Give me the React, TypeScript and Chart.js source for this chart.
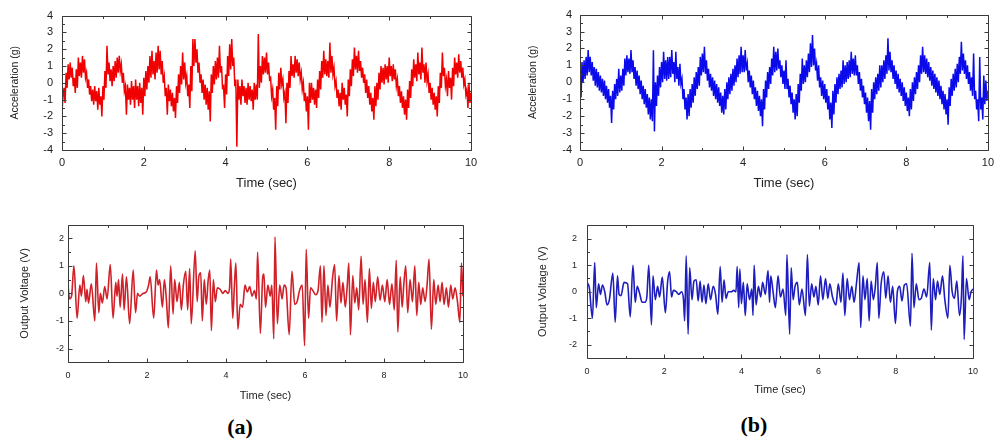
import React, { useEffect, useRef } from "react";
import { Chart, registerables } from "chart.js";

Chart.register(...registerables);

// ---------- axis ticks ----------
const TIME_TICKS = [0, 2, 4, 6, 8, 10];
const TIME_MINOR = [1, 3, 5, 7, 9];
const ACC_TICKS = [-4, -3, -2, -1, 0, 1, 2, 3, 4];
const ACC_MINOR = [-3.5, -2.5, -1.5, -0.5, 0.5, 1.5, 2.5, 3.5];
const VOLT_TICKS = [-2, -1, 0, 1, 2];
const VOLT_MINOR = [-1.5, -0.5, 0.5, 1.5];

// sample spacing (s) of the acceleration records
const ACC_SAMPLE_STEP = 0.025;

// ---------- (a) acceleration, g ----------
const ACC_A = [
  -1.7,-0.8, -0.3,-1.2, 0.6,-0.3, 1.1,0.2, 1.2,0.3, 0.9,-0.2, 0.3,-0.6, 0.8,-0.3, 1.5,0.4, 1.2,0.3,
  1.6,0.6, 1.4,0.3, 0.6,-0.3, 0.2,-0.7, -0.2,-1.1, -0.4,-1.3, -0.2,-1.1, -0.5,-1.6, -0.3,-1.3, -0.8,-2.0,
  -0.2,-1.0, 0.7,-0.3, 2.2,0.5, 1.2,0.1, 0.8,-0.2, 1.0,0.1, 1.3,0.3, 1.5,0.6, 1.6,0.7, 1.1,0.0,
  0.6,-0.5, -0.2,-1.9, -0.1,-1.0, -0.3,-1.3, 0.1,-1.0, -0.2,-1.5, 0.2,-1.0, -0.2,-1.4, 0.0,-1.2, -0.3,-1.9,
  0.3,-0.8, 0.7,-0.4, 1.0,0.0, 1.6,0.3, 1.9,0.5, 1.3,0.2, 1.8,0.6, 2.2,0.8, 1.9,0.5, 1.3,0.0,
  0.4,-0.8, -0.3,-1.9, -0.1,-1.1, -0.4,-1.4, -0.6,-1.7, -0.9,-2.1, -0.2,-1.2, 0.5,-0.6, 1.0,-0.1, 1.8,0.2,
  1.2,0.0, 0.4,-0.8, -0.1,-1.5, 1.0,-0.5, 2.6,1.0, 2.6,1.2, 2.0,0.6, 1.2,0.0, 0.5,-0.6, 0.2,-1.0,
  -0.1,-1.3, -0.3,-1.6, -0.5,-2.3, 0.5,-0.6, 1.0,-0.1, 1.3,0.2, 1.5,0.3, 2.2,0.6, 1.0,-0.3, -0.2,-1.5,
  0.5,-0.7, 1.6,0.4, 2.3,0.8, 2.6,1.0, 1.5,-0.2, 0.2,-3.8, 0.2,-1.0, -0.2,-1.3, 0.2,-0.8, -0.2,-1.2,
  -0.3,-1.3, 0.0,-1.0, -0.2,-1.1, -0.4,-1.6, 0.0,-1.0, -0.1,-1.0, 2.9,-0.3, 1.0,0.0, 1.6,0.5, 1.5,0.6,
  1.8,0.5, 1.2,0.2, 0.3,-0.8, -0.4,-1.6, -0.9,-2.8, -0.2,-1.4, 0.6,-0.4, 0.9,-0.1, 0.2,-0.9, -0.6,-2.4,
  0.0,-1.2, 0.7,-0.3, 1.6,0.4, 1.1,0.3, 1.6,0.6, 1.4,0.4, 1.2,0.2, 0.6,-0.4, 0.0,-1.1, -0.6,-1.7,
  -0.8,-2.8, 0.0,-1.2, 0.0,-1.0, -0.3,-1.3, -0.4,-1.5, 0.2,-0.9, 0.7,-0.4, 1.3,0.3, 1.9,0.5, 1.4,0.4,
  1.3,0.3, 2.4,0.6, 1.6,0.5, 0.9,-0.2, 0.1,-0.9, -0.4,-1.4, -0.6,-1.6, 0.0,-1.0, -0.3,-1.3, -0.7,-2.0,
  0.2,-0.8, 0.8,-0.2, 1.4,0.4, 2.1,0.8, 1.6,0.6, 1.9,0.7, 1.3,0.3, 0.9,0.0, 0.5,-0.6, 0.2,-0.9,
  -0.2,-1.3, -0.6,-1.7, -0.9,-2.2, -0.2,-1.4, 0.0,-1.0, 0.6,-0.4, 1.0,0.0, 0.9,-0.1, 1.1,0.2, 1.0,0.0,
  1.5,0.4, 1.0,0.1, 1.1,0.2, 0.8,-0.2, 0.2,-0.8, -0.2,-1.2, -0.5,-1.5, -0.8,-1.9, -1.0,-2.2, -0.4,-1.5,
  0.1,-0.9, 0.8,-0.2, 1.4,0.3, 1.1,0.1, 1.8,0.5, 1.2,0.2, 2.1,0.6, 1.1,0.0, 1.2,0.1, 0.5,-0.6,
  0.0,-1.0, -0.3,-1.3, -0.6,-1.6, -0.8,-2.0, -0.2,-1.2, 0.6,-0.3, 1.8,0.4, 0.9,-0.2, 0.2,-0.8, 0.7,-0.3,
  0.3,-1.0, 0.9,-0.2, 1.5,0.5, 1.2,0.3, 1.7,0.6, 1.3,0.3, 0.9,-0.1, 0.2,-0.7, -0.4,-1.5, 0.0,-1.2,
  -0.6,
];

// ---------- (b) acceleration, g ----------
const ACC_B = [
  -0.4,-0.9, 1.2,0.0, 1.3,0.2, 1.5,0.4, 1.9,0.6, 1.5,0.4, 1.2,0.1, 0.9,-0.2, 0.8,-0.3, 0.6,-0.5,
  0.4,-0.6, 0.2,-0.8, 0.1,-1.0, -0.2,-1.2, -0.4,-1.5, -0.8,-2.4, -0.5,-1.6, -0.1,-1.0, 0.2,-0.8, 0.8,-0.6,
  0.4,-0.5, 0.8,-0.2, 1.4,0.4, 1.6,0.6, 1.4,0.5, 1.9,0.6, 1.3,0.2, 0.9,-0.2, 0.7,-0.4, 0.4,-0.7,
  0.1,-1.0, -0.2,-1.3, -0.4,-1.5, -0.7,-1.9, -0.9,-2.2, -1.0,-2.3, 1.9,-2.9, 0.0,-1.4, 0.4,-0.8, 0.9,-0.3,
  1.2,0.0, 1.8,0.2, 1.3,0.1, 1.5,0.2, 1.5,0.3, 1.9,0.5, 1.2,0.0, 1.8,0.2, 0.9,-0.2, 1.1,-0.1,
  0.2,-1.0, -0.4,-1.6, -0.9,-2.2, -0.7,-2.0, -0.4,-1.5, -0.1,-1.2, 0.3,-0.8, 0.6,-0.4, 0.9,-0.2, 1.5,0.4,
  1.7,0.6, 2.1,0.5, 1.3,0.1, 0.8,-0.3, 0.5,-0.5, 0.3,-0.8, 0.1,-1.0, -0.1,-1.2, -0.3,-1.4, -0.6,-1.8,
  -0.8,-1.9, -0.4,-1.6, 0.0,-1.0, 0.3,-0.7, 0.5,-0.5, 0.8,-0.2, 1.0,0.0, 1.4,0.3, 1.6,0.5, 2.1,0.6,
  1.6,0.6, 1.9,0.7, 1.1,0.0, 0.7,-0.3, 0.4,-0.7, 0.1,-1.0, -0.3,-1.4, -0.5,-1.7, -0.8,-2.0, -1.0,-2.6,
  -0.4,-1.6, 0.1,-0.9, 0.6,-0.4, 0.9,-0.1, 1.4,0.4, 2.1,0.6, 1.8,0.7, 2.0,0.8, 1.3,0.3, 1.0,-0.1,
  0.7,-0.4, 1.3,-0.4, 0.2,-0.9, -0.2,-1.3, -0.6,-1.8, -1.0,-2.2, -0.7,-2.0, -0.1,-1.2, 0.5,-0.5, 1.4,-0.1,
  1.0,0.0, 1.3,0.3, 1.7,0.6, 2.3,0.9, 2.8,1.0, 2.0,0.7, 1.1,0.1, 1.0,-0.3, 0.3,-0.8, 0.1,-1.0,
  -0.1,-1.2, -0.4,-1.6, -0.8,-2.2, -1.2,-2.7, -0.5,-1.9, -0.1,-1.2, 0.3,-0.7, 0.5,-0.4, 0.7,-0.3, 1.3,-0.1,
  1.0,0.0, 1.2,0.2, 1.3,0.3, 1.8,0.5, 1.4,0.4, 1.6,0.4, 1.0,-0.1, 0.6,-0.5, 0.2,-0.9, -0.2,-1.3,
  -0.6,-1.8, -0.9,-2.3, -1.1,-2.8, -0.4,-1.8, 0.0,-1.0, 0.3,-0.7, 0.5,-0.5, 1.0,-0.3, 1.0,0.0, 1.3,0.2,
  1.6,0.5, 2.6,0.7, 1.8,0.6, 1.3,0.2, 1.0,-0.1, 0.7,-0.4, 0.5,-0.6, 0.2,-0.8, 0.0,-1.1, -0.3,-1.4,
  -0.6,-1.7, -0.9,-2.0, -0.4,-1.6, 0.0,-1.1, 0.3,-0.7, 0.6,-0.4, 1.0,0.0, 1.6,0.5, 2.1,0.6, 1.6,0.5,
  1.4,0.3, 1.2,0.1, 0.9,-0.2, 0.7,-0.4, 0.5,-0.6, 0.3,-0.8, 0.1,-1.0, -0.2,-1.3, -0.5,-1.6, -0.7,-1.9,
  -1.0,-2.5, -0.3,-1.4, 0.2,-0.8, 0.5,-0.5, 0.8,-0.3, 1.1,0.0, 1.5,0.5, 2.4,0.7, 1.7,0.5, 1.3,0.2,
  1.0,-0.1, 0.6,-0.5, 0.3,-0.8, 1.7,-1.0, -0.5,-1.6, -1.0,-2.3, 1.5,-1.6, -0.9,-2.2, 0.4,-1.3, 0.1,-1.1,
  -0.5,
];

// ---------- (a) output voltage, V (time s, value V) ----------
const VOLT_A_TIME = [
  0.00,0.04,0.09,0.15,0.23,0.30,0.34,0.39,0.45,0.48,
  0.52,0.59,0.68,0.72,0.78,0.82,0.87,0.93,0.99,1.07,
  1.14,1.21,1.24,1.28,1.32,1.38,1.42,1.48,1.56,1.65,
  1.71,1.76,1.81,1.90,1.98,2.04,2.08,2.17,2.24,2.28,
  2.32,2.39,2.44,2.49,2.54,2.60,2.66,2.70,2.76,2.82,
  2.87,2.92,2.98,3.03,3.08,3.12,3.22,3.27,3.31,3.36,
  3.40,3.45,3.50,3.55,3.59,3.63,3.68,3.73,3.78,3.85,
  3.92,3.98,4.05,4.09,4.12,4.17,4.21,4.25,4.30,4.36,
  4.42,4.48,4.54,4.60,4.66,4.72,4.77,4.80,4.87,4.93,
  4.96,5.00,5.06,5.12,5.16,5.21,5.24,5.30,5.36,5.42,
  5.47,5.52,5.60,5.67,5.74,5.80,5.86,5.93,5.99,6.03,
  6.09,6.14,6.20,6.27,6.33,6.39,6.43,6.48,6.53,6.58,
  6.63,6.70,6.75,6.80,6.86,6.91,6.96,7.02,7.07,7.11,
  7.15,7.21,7.26,7.31,7.36,7.42,7.47,7.52,7.58,7.63,
  7.68,7.73,7.78,7.84,7.90,7.96,8.02,8.08,8.14,8.20,
  8.26,8.31,8.35,8.41,8.46,8.50,8.55,8.60,8.66,8.72,
  8.78,8.83,8.88,8.93,8.98,9.04,9.09,9.14,9.20,9.26,
  9.31,9.37,9.42,9.47,9.52,9.58,9.63,9.69,9.74,9.80,
  9.86,9.92,9.96,10.00,
];
const VOLT_A = [
  0.3,-0.2,-0.1,1.0,-0.9,0.3,-0.1,0.65,-0.3,0.15,
  -0.35,0.35,-1.0,1.1,-0.7,0.0,-0.35,0.25,-0.2,1.05,
  -0.9,0.4,-0.1,0.5,-0.5,0.7,-0.6,0.6,-1.1,0.85,
  -0.7,0.0,-0.1,0.0,0.05,0.3,0.6,-0.9,0.85,0.3,
  0.5,-0.5,0.5,-0.2,-1.25,1.0,-0.75,0.5,-0.3,0.4,
  -0.6,0.3,0.8,-0.6,0.9,-1.1,1.55,-0.3,0.6,0.75,
  -1.0,0.5,-0.4,0.5,0.85,-1.35,0.5,-0.3,0.2,0.15,
  0.0,0.1,0.0,0.2,1.25,-0.9,0.2,1.1,-1.3,-0.4,
  -0.5,0.3,0.05,0.25,-0.1,0.1,-0.2,1.5,-1.45,0.6,
  0.7,-0.5,0.3,-0.1,0.3,-1.65,2.05,-1.1,0.3,-0.2,
  0.3,0.2,-1.5,0.8,-0.4,-0.3,0.1,0.3,-1.9,1.6,
  -0.9,0.2,0.1,-0.05,0.1,1.0,-1.05,1.0,-0.8,0.3,
  -0.5,0.6,1.05,-1.0,0.65,-0.35,0.4,-0.5,0.3,1.1,
  -1.5,0.65,-0.35,0.2,-0.6,1.35,-0.4,0.5,-1.05,0.9,
  -0.55,0.4,-0.3,0.6,-0.25,0.3,-0.3,0.5,-0.4,0.35,
  -0.6,1.2,-1.4,0.6,-0.5,0.3,1.0,-0.7,0.5,-0.3,
  1.0,-0.8,0.4,-0.4,0.2,-0.3,0.3,1.25,-1.3,0.5,
  -0.4,0.3,-0.3,0.4,-0.4,0.2,-0.5,0.3,-0.2,0.2,
  -0.3,-1.05,1.1,-0.1,
];

// ---------- (b) output voltage, V (time s, value V) ----------
const VOLT_B_TIME = [
  0.00,0.06,0.14,0.20,0.24,0.30,0.35,0.40,0.46,0.52,
  0.58,0.67,0.73,0.79,0.83,0.88,0.96,1.05,1.12,1.19,
  1.25,1.30,1.36,1.43,1.50,1.55,1.60,1.67,1.71,1.77,
  1.83,1.88,1.95,2.03,2.09,2.14,2.19,2.24,2.31,2.38,
  2.45,2.50,2.53,2.57,2.62,2.66,2.72,2.77,2.83,2.88,
  2.93,2.98,3.03,3.08,3.14,3.20,3.27,3.33,3.39,3.45,
  3.50,3.55,3.60,3.66,3.74,3.80,3.86,3.89,3.93,3.96,
  4.00,4.05,4.10,4.15,4.21,4.27,4.30,4.33,4.38,4.44,
  4.50,4.55,4.62,4.69,4.73,4.76,4.82,4.88,4.95,5.01,
  5.08,5.15,5.18,5.25,5.29,5.34,5.39,5.45,5.50,5.57,
  5.66,5.71,5.76,5.82,5.88,5.93,5.99,6.05,6.11,6.18,
  6.24,6.29,6.36,6.45,6.51,6.58,6.63,6.68,6.74,6.80,
  6.86,6.92,6.98,7.05,7.09,7.15,7.20,7.26,7.31,7.36,
  7.42,7.47,7.52,7.56,7.62,7.69,7.74,7.80,7.86,7.92,
  7.99,8.04,8.10,8.16,8.22,8.28,8.38,8.42,8.47,8.53,
  8.60,8.66,8.73,8.80,8.88,8.92,8.97,9.03,9.08,9.14,
  9.21,9.27,9.35,9.40,9.46,9.52,9.58,9.65,9.70,9.74,
  9.77,9.83,9.90,9.95,10.00,
];
const VOLT_B = [
  0.35,0.15,-1.0,1.1,-0.6,0.3,-0.1,0.25,0.0,-0.5,
  -0.3,0.7,-1.15,0.6,-0.1,-0.15,0.35,0.3,-0.95,1.0,
  -0.4,0.2,-0.05,-0.4,-0.4,-0.2,1.0,-1.25,0.6,-0.3,
  0.2,-0.2,0.55,-0.8,0.4,0.75,-0.2,0.05,0.0,-0.1,
  0.0,-0.3,-1.1,1.35,-1.6,0.9,-0.3,0.4,0.45,-0.35,
  0.4,-0.4,0.25,-0.45,0.3,-0.3,0.2,-0.1,-0.85,0.95,
  -0.4,0.45,-0.25,0.0,0.0,0.05,0.0,0.95,-0.6,0.85,
  -0.45,0.35,-0.9,0.3,-0.3,0.1,-0.9,1.0,-0.5,0.2,
  -0.2,0.35,-0.1,0.8,-0.4,0.6,0.0,-0.6,0.6,-0.2,
  0.1,-0.9,1.4,-1.6,0.9,-0.3,0.2,0.35,-0.5,0.1,
  -0.9,1.4,-0.55,0.3,-0.2,0.2,-0.5,0.6,-0.3,0.5,
  -0.25,0.3,-0.2,-0.5,0.3,-0.4,0.7,-0.9,0.5,-0.3,
  0.2,-0.4,0.3,1.1,-1.35,0.6,-0.3,0.5,-1.1,0.4,
  -0.3,0.2,1.1,-1.0,0.3,0.75,-0.25,0.6,-0.4,0.2,
  -1.2,0.0,0.2,-0.35,0.25,0.3,-1.3,1.45,-0.6,0.3,
  -0.3,-0.25,0.1,-0.2,1.1,-1.45,0.5,-0.3,0.4,-0.1,
  0.6,-0.3,-1.0,1.0,0.0,-0.25,0.4,-0.9,-0.2,1.35,
  -1.8,0.5,-0.3,0.0,0.1,
];

// ---------- plugin: closed frame with inward ticks ----------
const framePlugin = {
  id: "frame",
  afterDatasetsDraw(chart: any, _args: any, opts: any) {
    const { ctx, chartArea, scales } = chart;
    const x = scales.x;
    const y = scales.y;
    const L = Math.round(chartArea.left) + 0.5;
    const R = Math.round(chartArea.right) + 0.5;
    const T = Math.round(chartArea.top) + 0.5;
    const B = Math.round(chartArea.bottom) + 0.5;
    ctx.save();
    ctx.strokeStyle = opts.color;
    ctx.lineWidth = 1;
    ctx.beginPath();
    ctx.rect(L, T, R - L, B - T);
    const seg = (x1: number, y1: number, x2: number, y2: number) => {
      ctx.moveTo(x1, y1);
      ctx.lineTo(x2, y2);
    };
    const xt = (vals: number[], len: number) => {
      for (const v of vals) {
        const p = Math.round(x.getPixelForValue(v)) + 0.5;
        seg(p, B, p, B - len);
        seg(p, T, p, T + len);
      }
    };
    const yt = (vals: number[], len: number) => {
      for (const v of vals) {
        const p = Math.round(y.getPixelForValue(v)) + 0.5;
        seg(L, p, L + len, p);
        seg(R, p, R - len, p);
      }
    };
    xt(opts.xMajor, opts.major);
    xt(opts.xMinor, opts.minor);
    yt(opts.yMajor, opts.major);
    yt(opts.yMinor, opts.minor);
    ctx.stroke();
    ctx.restore();
  },
};

type PanelCfg = {
  id: string;
  left: number;
  top: number;
  width: number;
  height: number;
  yAxisW: number;
  xAxisH: number;
  padTop: number;
  padRight: number;
  yMin: number;
  yMax: number;
  yTicks: number[];
  yMinor: number[];
  yTitle: string;
  yTitleSize: number;
  yTitlePad: number;
  yTickPad: number;
  xTitleSize: number;
  xTitlePad: number;
  xTickPad: number;
  tickSize: number;
  color: string;
  lineWidth: number;
  smooth: boolean;
  points: { x: number; y: number }[];
};

const FONT = "'Liberation Sans', Arial, sans-serif";

const PANELS: PanelCfg[] = [
  {
    id: "acc-a", left: 0, top: 0, width: 500, height: 205,
    yAxisW: 62, xAxisH: 55, padTop: 9, padRight: 29,
    yMin: -4, yMax: 4, yTicks: ACC_TICKS, yMinor: ACC_MINOR,
    yTitle: "Acceleration (g)", yTitleSize: 10.5, yTitlePad: 8.7, yTickPad: 9,
    xTitleSize: 13, xTitlePad: 14, xTickPad: 6, tickSize: 11,
    color: "rgb(240,0,0)", lineWidth: 1.5, smooth: false,
    points: ACC_A.map((v, i) => ({ x: i * ACC_SAMPLE_STEP, y: v })),
  },
  {
    id: "acc-b", left: 500, top: 0, width: 500, height: 205,
    yAxisW: 80, xAxisH: 55, padTop: 9, padRight: 12,
    yMin: -4, yMax: 4, yTicks: ACC_TICKS, yMinor: ACC_MINOR,
    yTitle: "Acceleration (g)", yTitleSize: 10.5, yTitlePad: 26.7, yTickPad: 8,
    xTitleSize: 13, xTitlePad: 14, xTickPad: 6, tickSize: 11,
    color: "rgb(10,10,235)", lineWidth: 1.5, smooth: false,
    points: ACC_B.map((v, i) => ({ x: i * ACC_SAMPLE_STEP, y: v })),
  },
  {
    id: "volt-a", left: 0, top: 210, width: 500, height: 200,
    yAxisW: 68, xAxisH: 47.7, padTop: 14.5, padRight: 37,
    yMin: -2.5, yMax: 2.5, yTicks: VOLT_TICKS, yMinor: VOLT_MINOR,
    yTitle: "Output Voltage (V)", yTitleSize: 11, yTitlePad: 18.4, yTickPad: 4,
    xTitleSize: 11, xTitlePad: 7.7, xTickPad: 8, tickSize: 9,
    color: "rgb(208,32,40)", lineWidth: 1.6, smooth: true,
    points: VOLT_A.map((v, i) => ({ x: VOLT_A_TIME[i], y: v })),
  },
  {
    id: "volt-b", left: 500, top: 210, width: 500, height: 200,
    yAxisW: 87, xAxisH: 52, padTop: 14, padRight: 27,
    yMin: -2.5, yMax: 2.5, yTicks: VOLT_TICKS, yMinor: VOLT_MINOR,
    yTitle: "Output Voltage (V)", yTitleSize: 11, yTitlePad: 36, yTickPad: 10,
    xTitleSize: 11, xTitlePad: 13.4, xTickPad: 8, tickSize: 9,
    color: "rgb(30,30,190)", lineWidth: 1.6, smooth: true,
    points: VOLT_B.map((v, i) => ({ x: VOLT_B_TIME[i], y: v })),
  },
];

function Panel({ cfg }: { cfg: PanelCfg }) {
  const ref = useRef<HTMLCanvasElement>(null);
  useEffect(() => {
    const chart = new Chart(ref.current as HTMLCanvasElement, {
      type: "line",
      data: {
        datasets: [
          {
            data: cfg.points,
            borderColor: cfg.color,
            borderWidth: cfg.lineWidth,
            pointRadius: 0,
            fill: false,
            tension: 0,
            cubicInterpolationMode: cfg.smooth ? "monotone" : "default",
          } as any,
        ],
      },
      options: {
        responsive: false,
        animation: false,
        devicePixelRatio: 1,
        events: [],
        layout: { padding: { left: 0, top: cfg.padTop, right: cfg.padRight, bottom: 0 } },
        plugins: {
          legend: { display: false },
          tooltip: { enabled: false },
          frame: {
            color: "#3a3a3a",
            major: 4,
            minor: 2.5,
            xMajor: TIME_TICKS,
            xMinor: TIME_MINOR,
            yMajor: cfg.yTicks,
            yMinor: cfg.yMinor,
          },
        } as any,
        scales: {
          x: {
            type: "linear",
            min: 0,
            max: 10,
            afterBuildTicks: (s: any) => {
              s.ticks = TIME_TICKS.map((v) => ({ value: v }));
            },
            afterFit: (s: any) => {
              s.height = cfg.xAxisH;
            },
            grid: { display: false, drawTicks: false },
            border: { display: false },
            ticks: {
              padding: cfg.xTickPad,
              autoSkip: false,
              maxRotation: 0,
              color: "#222",
              font: { family: FONT, size: cfg.tickSize },
              callback: (v: any) => String(v),
            },
            title: {
              display: true,
              text: "Time (sec)",
              color: "#222",
              font: { family: FONT, size: cfg.xTitleSize },
              padding: { top: 0, bottom: cfg.xTitlePad },
            },
          },
          y: {
            type: "linear",
            min: cfg.yMin,
            max: cfg.yMax,
            afterBuildTicks: (s: any) => {
              s.ticks = cfg.yTicks.map((v) => ({ value: v }));
            },
            afterFit: (s: any) => {
              s.width = cfg.yAxisW;
            },
            grid: { display: false, drawTicks: false },
            border: { display: false },
            ticks: {
              padding: cfg.yTickPad,
              autoSkip: false,
              color: "#222",
              font: { family: FONT, size: cfg.tickSize },
              callback: (v: any) => String(v),
            },
            title: {
              display: true,
              text: cfg.yTitle,
              color: "#222",
              font: { family: FONT, size: cfg.yTitleSize },
              padding: { top: cfg.yTitlePad, bottom: 0 },
            },
          },
        },
      } as any,
      plugins: [framePlugin as any],
    });
    return () => chart.destroy();
  }, [cfg]);
  return (
    <canvas
      ref={ref}
      width={cfg.width}
      height={cfg.height}
      style={{ position: "absolute", left: cfg.left, top: cfg.top, width: cfg.width, height: cfg.height }}
    />
  );
}

const LABEL_STYLE: React.CSSProperties = {
  position: "absolute",
  width: 80,
  textAlign: "center",
  fontFamily: "'Liberation Serif', 'Times New Roman', serif",
  fontWeight: "bold",
  fontSize: 22,
  lineHeight: "30px",
  color: "#000",
};

export default function App() {
  return (
    <div
      style={{
        position: "absolute",
        left: 0,
        top: 0,
        width: 1000,
        height: 446,
        background: "#fff",
        overflow: "hidden",
      }}
    >
      {PANELS.map((p) => (
        <Panel key={p.id} cfg={p} />
      ))}
      <div style={{ ...LABEL_STYLE, left: 200, top: 412 }}>(a)</div>
      <div style={{ ...LABEL_STYLE, left: 714, top: 410 }}>(b)</div>
    </div>
  );
}
